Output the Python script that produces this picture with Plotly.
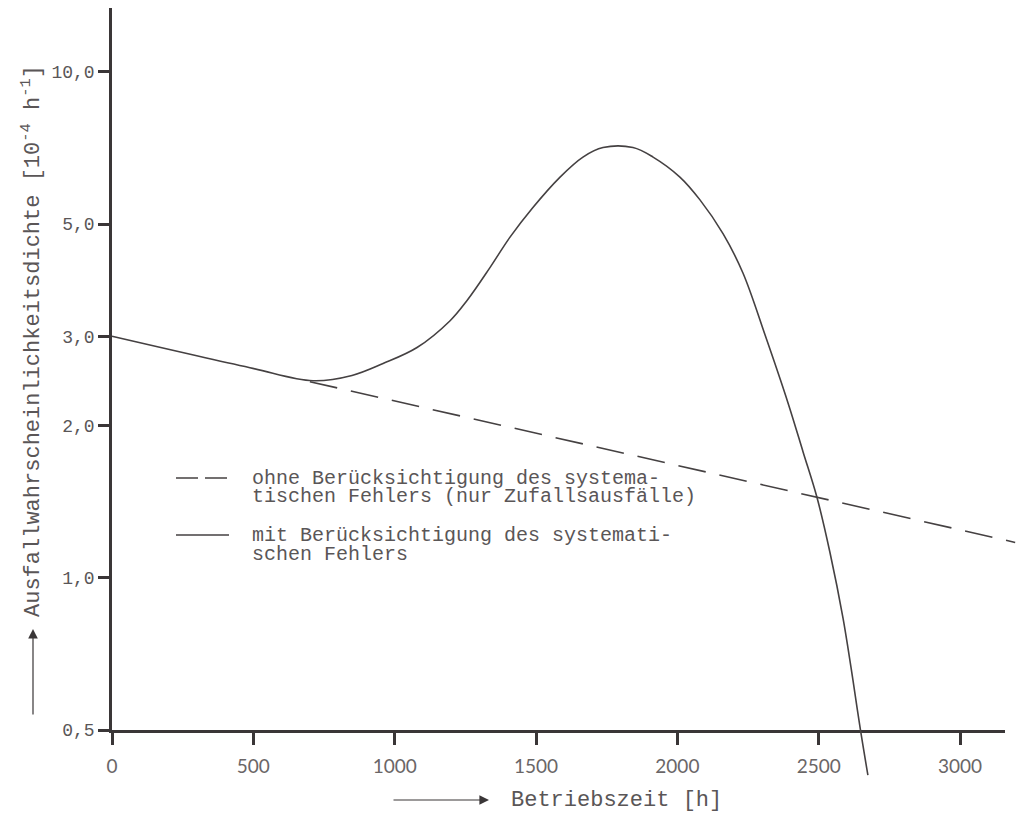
import math
import plotly.graph_objects as go

# ---------------- data ----------------
hours_solid = [0, 488, 711, 849, 959, 1079, 1196, 1256, 1337, 1408, 1489,
               1585, 1666, 1737, 1843, 1914, 2009, 2080, 2162, 2232,
               2310, 2392, 2445, 2494, 2540, 2586, 2621, 2646, 2674]
rate_solid = [3.0, 2.60, 2.45, 2.51, 2.65, 2.85, 3.22, 3.53, 4.10, 4.71, 5.39,
              6.19, 6.78, 7.08, 7.08, 6.78, 6.19, 5.58, 4.78, 4.00,
              3.02, 2.21, 1.77, 1.44, 1.12, 0.832, 0.628, 0.507, 0.407]

hours_dashed = [700, 3195]
rate_dashed = [2.44, 1.174]

x_tickvals = [0, 500, 1000, 1500, 2000, 2500, 3000]
x_ticktext = ["0", "500", "1000", "1500", "2000", "2500", "3000"]
y_tickvals = [0.5, 1.0, 2.0, 3.0, 5.0, 10.0]
y_ticktext = ["0,5", "1,0", "2,0", "3,0", "5,0", "10,0"]

legend_lines_1 = ["ohne Berücksichtigung des systema-",
                  "tischen Fehlers (nur Zufallsausfälle)"]
legend_lines_2 = ["mit Berücksichtigung des systemati-",
                  "schen Fehlers"]
x_title = "Betriebszeit [h]"
y_title = "Ausfallwahrscheinlichkeitsdichte [10<sup>-4</sup> h<sup>-1</sup>]"

# ---------------- layout geometry (page pixels) ----------------
PAGE_W, PAGE_H = 1025, 837
OFF = 8                              # default body margin of the page
W, H = PAGE_W - 2 * OFF, PAGE_H - 2 * OFF

px_x0, px_xend = 112, 1005          # page pixel of x=0 and end of x axis
x_end = 3159.0
px_per_h = (px_xend - px_x0) / x_end
px_y05, px_ytop = 730, 8            # page pixel of y=0.5 and top of y axis
px_per_dec = 506.0
y_lo = math.log10(0.5)
y_hi = y_lo + (px_y05 - px_ytop) / px_per_dec


def fx(px):
    return (px - OFF) / W


def fy(py):
    return (H - (py - OFF)) / H


def hx(px):          # page pixel -> x2 data value
    return (px - px_x0) / px_per_h


def ly(py):          # page pixel -> log10 position on y2
    return y_lo + (px_y05 - py) / px_per_dec


# full-figure axes for the curves (so they may run past the drawn axes)
x2_range = [hx(OFF), hx(OFF + W)]
y2_range = [ly(OFF + H), ly(OFF)]

INK = "#3a3637"
LINE = "#454142"
TXT = "#5a5657"
MONO = "Liberation Mono, Courier New, monospace"

fig = go.Figure()

# placeholder so that the visible axes pair is drawn
fig.add_trace(go.Scatter(x=[], y=[], xaxis="x", yaxis="y", showlegend=False))

fig.add_trace(go.Scatter(
    x=hours_dashed, y=rate_dashed, mode="lines", xaxis="x2", yaxis="y2",
    name="ohne Berücksichtigung des systematischen Fehlers",
    line=dict(color=LINE, width=1.6, dash="28px,14px"), showlegend=False))

fig.add_trace(go.Scatter(
    x=hours_solid, y=rate_solid, mode="lines", xaxis="x2", yaxis="y2",
    name="mit Berücksichtigung des systematischen Fehlers",
    line=dict(color=LINE, width=1.6, shape="spline", smoothing=1.0),
    showlegend=False))

fig.update_layout(
    width=W, height=H,
    margin=dict(l=0, r=0, t=0, b=0, autoexpand=False),
    paper_bgcolor="white", plot_bgcolor="rgba(0,0,0,0)",
    showlegend=False,
    xaxis=dict(domain=[fx(px_x0), fx(px_xend)], range=[0, x_end],
               anchor="y", showgrid=False, zeroline=False, automargin=False,
               showline=True, linecolor=INK, linewidth=2.5,
               ticks="outside", ticklen=12, tickwidth=2.5, tickcolor=INK,
               tickvals=x_tickvals, ticktext=x_ticktext, ticklabelstandoff=5,
               tickfont=dict(family="Lato, Noto Sans, sans-serif", size=19,
                             color="#6a6667"),
               fixedrange=True),
    yaxis=dict(domain=[fy(px_y05), fy(px_ytop)], type="log",
               range=[y_lo, y_hi], anchor="x", showgrid=False, zeroline=False,
               automargin=False,
               showline=True, linecolor=INK, linewidth=2.5,
               ticks="outside", ticklen=11, tickwidth=2.5, tickcolor=INK,
               tickvals=y_tickvals, ticktext=y_ticktext,
               tickfont=dict(family=MONO, size=18, color=TXT),
               fixedrange=True),
    xaxis2=dict(domain=[0, 1], range=x2_range, anchor="y2", visible=False,
                automargin=False, fixedrange=True),
    yaxis2=dict(domain=[0, 1], range=y2_range, type="log", anchor="x2",
                visible=False, automargin=False, fixedrange=True),
)

annotations = []
shapes = []

# legend samples and texts
lx0, lx1 = 176, 229
for (py, dash) in [(478, "22px,7px"), (535, "solid")]:
    shapes.append(dict(type="line", xref="paper", yref="paper",
                       x0=fx(lx0), x1=fx(lx1), y0=fy(py), y1=fy(py),
                       line=dict(color=LINE, width=1.6, dash=dash)))

for text, py in zip(legend_lines_1 + legend_lines_2, [478, 497, 535, 554]):
    annotations.append(dict(text=text, x=fx(250), y=fy(py), xref="paper",
                            yref="paper", xanchor="left", yanchor="middle",
                            showarrow=False,
                            font=dict(family=MONO, size=20, color=TXT)))

# x title with arrow
annotations.append(dict(text=x_title, x=fx(509), y=fy(800), xref="paper",
                        yref="paper", xanchor="left", yanchor="middle",
                        showarrow=False,
                        font=dict(family=MONO, size=22, color=TXT)))
annotations.append(dict(text="", x=hx(489), y=ly(800), xref="x2", yref="y2",
                        ax=hx(392), ay=ly(800), axref="x2", ayref="y2",
                        showarrow=True, arrowhead=2, arrowsize=1.6,
                        arrowwidth=1.2, arrowcolor=INK))

# y title with arrow
annotations.append(dict(text=y_title, x=fx(31), y=fy(341), xref="paper",
                        yref="paper", xanchor="center", yanchor="middle",
                        textangle=-90, showarrow=False,
                        font=dict(family=MONO, size=22, color=TXT)))
annotations.append(dict(text="", x=hx(33), y=ly(629), xref="x2", yref="y2",
                        ax=hx(33), ay=ly(716), axref="x2", ayref="y2",
                        showarrow=True, arrowhead=2, arrowsize=1.6,
                        arrowwidth=1.2, arrowcolor=INK))

fig.update_layout(annotations=annotations, shapes=shapes)

fig.write_html("out.html")
